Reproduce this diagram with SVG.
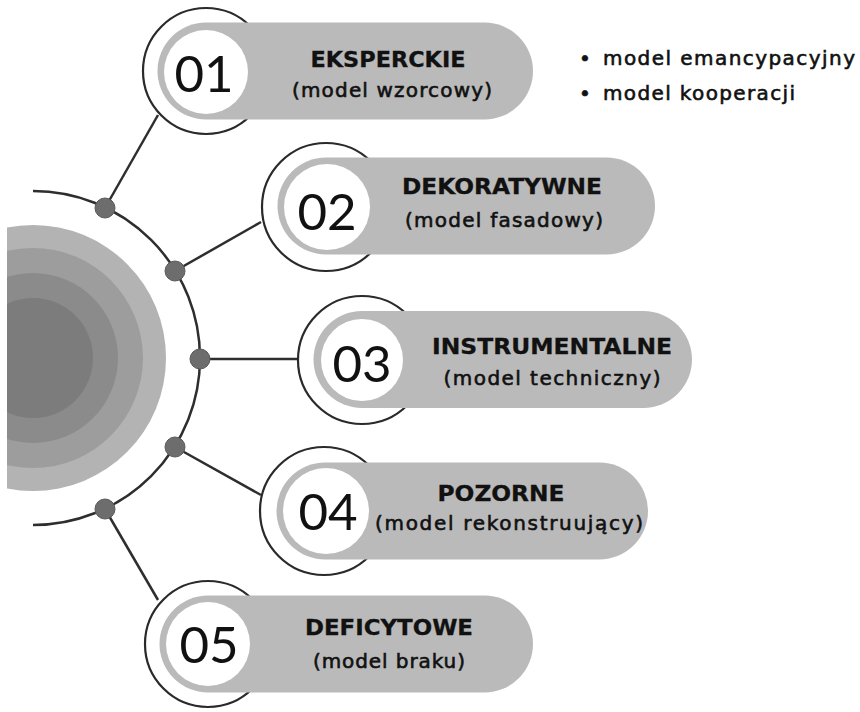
<svg xmlns="http://www.w3.org/2000/svg" width="860" height="712" viewBox="0 0 860 712">
<defs>
<clipPath id="leftclip"><rect x="7" y="0" width="860" height="712"/></clipPath>
</defs>
<style>
.ring{fill:#fff;stroke:#2a2a2a;stroke-width:2.2}
.pill{fill:#bababa}
.hole{fill:#fff}
.num{font-family:Lato,"Open Sans",sans-serif;font-weight:400;font-size:51px;fill:#111;text-anchor:middle}
.title{font-family:"DejaVu Sans",sans-serif;font-weight:bold;font-size:22px;fill:#111;stroke:#111;stroke-width:0.3;text-anchor:middle}
.sub{font-family:"DejaVu Sans",sans-serif;font-size:20px;fill:#111;stroke:#111;stroke-width:0.6;text-anchor:middle}
.bul{font-family:"DejaVu Sans",sans-serif;font-size:20px;fill:#111;stroke:#111;stroke-width:0.6}
.conn{fill:none;stroke:#2e2e2e;stroke-width:2.5}
.dot{fill:#6d6d6d;stroke:#5a5a5a;stroke-width:1}
</style>
<rect width="860" height="712" fill="#fff"/>
<g id="core" clip-path="url(#leftclip)">
<circle cx="33" cy="358" r="133" fill="#b3b3b3"/>
<circle cx="33" cy="358" r="110" fill="#9d9d9d"/>
<circle cx="33" cy="358" r="85" fill="#8b8b8b"/>
<circle cx="33" cy="358" r="60" fill="#7c7c7c"/>
</g>
<g id="connectors">
<path class="conn" d="M 33 191 A 167 167 0 0 1 33 525"/>
<line class="conn" x1="105" y1="208" x2="158" y2="115"/>
<line class="conn" x1="175" y1="271" x2="261" y2="222"/>
<line class="conn" x1="200" y1="359" x2="299" y2="359"/>
<line class="conn" x1="175" y1="447" x2="261" y2="495"/>
<line class="conn" x1="105" y1="509" x2="158" y2="600"/>
<circle class="dot" cx="105" cy="208" r="10"/>
<circle class="dot" cx="175" cy="271" r="10"/>
<circle class="dot" cx="200" cy="359" r="10"/>
<circle class="dot" cx="175" cy="447" r="10"/>
<circle class="dot" cx="105" cy="509" r="10"/>
</g>
<g id="node1">
<circle class="ring" cx="206" cy="71" r="63"/>
<rect class="pill" x="157.5" y="22.5" width="375.5" height="97" rx="48.5"/>
<circle class="hole" cx="206" cy="72" r="42"/>
<text class="num" x="204" y="92">01</text>
<text class="title" x="388" y="67" textLength="155" lengthAdjust="spacingAndGlyphs">EKSPERCKIE</text>
<text class="sub" x="392" y="97" textLength="200" lengthAdjust="spacing">(model wzorcowy)</text>
</g>
<g id="node2">
<circle class="ring" cx="326" cy="207" r="64"/>
<rect class="pill" x="277.5" y="157.5" width="377.5" height="97" rx="48.5"/>
<circle class="hole" cx="327" cy="207" r="43"/>
<text class="num" x="327" y="230">02</text>
<text class="title" x="502" y="194" textLength="200" lengthAdjust="spacingAndGlyphs">DEKORATYWNE</text>
<text class="sub" x="504" y="227" textLength="198" lengthAdjust="spacing">(model fasadowy)</text>
</g>
<g id="node3">
<circle class="ring" cx="362" cy="360" r="64"/>
<rect class="pill" x="313.5" y="311" width="378.5" height="97" rx="48.5"/>
<circle class="hole" cx="362" cy="360" r="41"/>
<text class="num" x="362" y="382">03</text>
<text class="title" x="552" y="354" textLength="240" lengthAdjust="spacingAndGlyphs">INSTRUMENTALNE</text>
<text class="sub" x="552" y="385" textLength="217" lengthAdjust="spacing">(model techniczny)</text>
</g>
<g id="node4">
<circle class="ring" cx="324" cy="511" r="64"/>
<rect class="pill" x="276.5" y="462.5" width="371.5" height="97" rx="48.5"/>
<circle class="hole" cx="326" cy="511" r="43"/>
<text class="num" x="328" y="530">04</text>
<text class="title" x="501" y="501" textLength="127" lengthAdjust="spacingAndGlyphs">POZORNE</text>
<text class="sub" x="509" y="530" textLength="268" lengthAdjust="spacing">(model rekonstruujący)</text>
</g>
<g id="node5">
<circle class="ring" cx="208" cy="644" r="63"/>
<rect class="pill" x="159.5" y="595.5" width="373.5" height="97" rx="48.5"/>
<circle class="hole" cx="208" cy="644" r="42"/>
<text class="num" x="209" y="663">05</text>
<text class="title" x="389" y="635" textLength="168" lengthAdjust="spacingAndGlyphs">DEFICYTOWE</text>
<text class="sub" x="389" y="668" textLength="152" lengthAdjust="spacing">(model braku)</text>
</g>
<g id="notes">
<text class="bul" x="579" y="65">•</text>
<text class="bul" x="603" y="65" textLength="252" lengthAdjust="spacing">model emancypacyjny</text>
<text class="bul" x="579" y="100">•</text>
<text class="bul" x="603" y="100" textLength="192" lengthAdjust="spacing">model kooperacji</text>
</g>
</svg>
